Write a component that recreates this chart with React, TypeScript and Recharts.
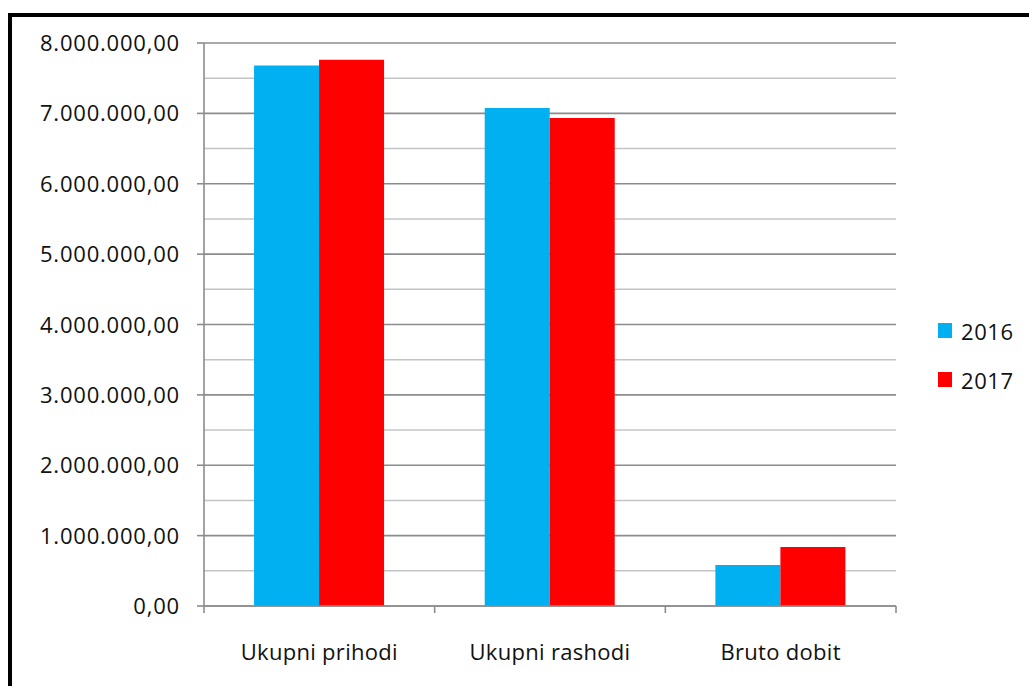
import React from "react";
import { BarChart, Bar, XAxis, YAxis, CartesianGrid } from "recharts";

const categories = ["Ukupni prihodi", "Ukupni rashodi", "Bruto dobit"];
const values2016 = [7680000, 7075000, 583000];
const values2017 = [7762000, 6933000, 839000];
const yTicks = [
  0, 500000, 1000000, 1500000, 2000000, 2500000, 3000000, 3500000, 4000000,
  4500000, 5000000, 5500000, 6000000, 6500000, 7000000, 7500000, 8000000,
];
const seriesNames = ["2016", "2017"];
const seriesColors = ["#00B0F0", "#FF0000"];

const data = categories.map((c, i) => ({
  name: c,
  s2016: values2016[i],
  s2017: values2017[i],
}));

const FONT = "'Open Sans', sans-serif";
const AXIS = "#8c8c8c";

function fmt(v: number): string {
  const whole = Math.round(v).toString().replace(/\B(?=(\d{3})+(?!\d))/g, ".");
  return whole + ",00";
}

const YTick = (props: any) => {
  const { x, y, payload } = props;
  const v = payload.value as number;
  if (v % 1000000 !== 0) return <g />;
  return (
    <g>
      <line x1={x - 7} y1={y} x2={x} y2={y} stroke={AXIS} strokeWidth={1.6} />
      <text
        x={x - 24}
        y={y + 8}
        textAnchor="end"
        fontFamily={FONT}
        fontSize={22}
        letterSpacing={0.8}
        fill="#111"
      >
        {fmt(v)}
      </text>
    </g>
  );
};

const XTick = (props: any) => {
  const { x, y, payload, index, visibleTicksCount } = props;
  const off = typeof payload.offset === "number" ? payload.offset : 0;
  const isLast = index === (visibleTicksCount ?? 0) - 1;
  return (
    <g>
      {off > 0 && (
        <line x1={x - off} x2={x - off} y1={y} y2={y + 7} stroke={AXIS} strokeWidth={1.6} />
      )}
      {off > 0 && isLast && (
        <line x1={x + off} x2={x + off} y1={y} y2={y + 7} stroke={AXIS} strokeWidth={1.6} />
      )}
      <text
        x={x}
        y={y + 54}
        textAnchor="middle"
        fontFamily={FONT}
        fontSize={22}
        letterSpacing={0.3}
        fill="#111"
      >
        {payload.value}
      </text>
    </g>
  );
};

const GridLine = (props: any) => {
  const { x1, x2, y1, y2, index } = props;
  const major = index % 2 === 0;
  return (
    <line
      x1={x1}
      x2={x2}
      y1={y1}
      y2={y2}
      stroke={major ? AXIS : "#c4c4c4"}
      strokeWidth={major ? 1.6 : 1.4}
    />
  );
};

const LegendBox = () => (
  <div
    style={{
      position: "absolute",
      left: 938,
      top: 306,
      fontFamily: FONT,
      fontSize: 22,
      color: "#111",
    }}
  >
    {seriesNames.map((n, i) => (
      <div key={n} style={{ display: "flex", alignItems: "center", height: 49 }}>
        <span
          style={{
            display: "inline-block",
            width: 14,
            height: 15,
            background: seriesColors[i],
            marginRight: 9,
          }}
        />
        <span style={{ letterSpacing: 0.6 }}>{n}</span>
      </div>
    ))}
  </div>
);

export default function App() {
  return (
    <div
      style={{
        position: "absolute",
        left: 0,
        top: 0,
        width: 1029,
        height: 686,
        overflow: "hidden",
        background: "#fff",
      }}
    >
      <div
        style={{
          position: "absolute",
          left: 8,
          top: 13,
          width: 1100,
          height: 800,
          border: "4px solid #000",
          boxSizing: "border-box",
        }}
      />
      <div style={{ position: "absolute", left: 0, top: 0 }}>
        <BarChart
          width={1029}
          height={686}
          data={data}
          margin={{ top: 43, right: 133, bottom: 0, left: 0 }}
          barCategoryGap="21.7%"
          barGap={0}
        >
          <CartesianGrid vertical={false} horizontal={GridLine as any} />
          <XAxis
            dataKey="name"
            height={80}
            axisLine={{ stroke: AXIS, strokeWidth: 1.6 }}
            tickLine={false}
            tickSize={0}
            tickMargin={0}
            tick={<XTick />}
            interval={0}
          />
          <YAxis
            width={204}
            domain={[0, 8000000]}
            ticks={yTicks}
            interval={0}
            tickSize={0}
            tickMargin={0}
            tickLine={false}
            axisLine={{ stroke: AXIS, strokeWidth: 1.6 }}
            tick={<YTick />}
          />
          <Bar
            dataKey="s2016"
            name={seriesNames[0]}
            fill={seriesColors[0]}
            isAnimationActive={false}
          />
          <Bar
            dataKey="s2017"
            name={seriesNames[1]}
            fill={seriesColors[1]}
            isAnimationActive={false}
          />
        </BarChart>
      </div>
      <LegendBox />
    </div>
  );
}
